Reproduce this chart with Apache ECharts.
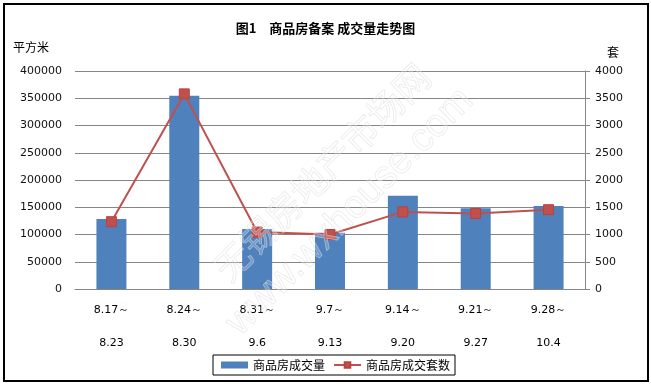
<!DOCTYPE html>
<html>
<head>
<meta charset="utf-8">
<script src="https://cdn.jsdelivr.net/npm/echarts@6/dist/echarts.min.js"></script>
<style>
html,body{margin:0;padding:0;background:#fff;}
#main{width:651px;height:385px;}
</style>
</head>
<body>
<div id="main"></div>
<script>
var startDates = ['8.17～', '8.24～', '8.31～', '9.7～', '9.14～', '9.21～', '9.28～'];
var endDates = ['8.23', '8.30', '9.6', '9.13', '9.20', '9.27', '10.4'];
var areaValues = [128500, 354500, 110000, 103000, 171000, 148000, 152500];
var unitValues = [1235, 3580, 1045, 1000, 1415, 1385, 1455];
var leftTicks = {min: 0, max: 400000, interval: 50000};
var rightTicks = {min: 0, max: 4000, interval: 500};

var categories = startDates.map(function (s, i) { return s + '\n' + endDates[i]; });
var cjk = '"Noto Sans CJK SC", sans-serif';
var num = '"DejaVu Sans", sans-serif';
var plain = function (v) { return String(v); };

var chart = echarts.init(document.getElementById('main'), null, {renderer: 'canvas'});
chart.setOption({
  animation: false,
  backgroundColor: '#fff',
  title: {
    text: '图1　商品房备案 成交量走势图',
    left: 'center',
    top: 17,
    textStyle: {fontFamily: cjk, fontSize: 13, fontWeight: 'bold', color: '#000'}
  },
  grid: {left: 75, right: 66, top: 71, bottom: 96, containLabel: false},
  legend: {
    left: 213,
    top: 355,
    itemWidth: 27,
    itemHeight: 7,
    itemGap: 8,
    padding: [4, 5, 4, 8],
    borderColor: '#000',
    borderWidth: 1,
    textStyle: {fontFamily: cjk, fontSize: 12, color: '#000'},
    data: [{name: '商品房成交量', icon: 'rect'}, {name: '商品房成交套数'}]
  },
  xAxis: {
    type: 'category',
    data: categories,
    axisLine: {show: true, lineStyle: {color: '#868686', width: 1}},
    axisTick: {show: false},
    axisLabel: {
      interval: 0,
      margin: 5,
      fontFamily: num,
      fontSize: 11,
      color: '#000',
      lineHeight: 33
    }
  },
  yAxis: [
    {
      type: 'value',
      min: leftTicks.min,
      max: leftTicks.max,
      interval: leftTicks.interval,
      axisLine: {show: false},
      axisTick: {show: false},
      splitLine: {show: true, lineStyle: {color: '#868686', width: 1}},
      axisLabel: {margin: 13, fontFamily: num, fontSize: 11, color: '#111', formatter: plain}
    },
    {
      type: 'value',
      min: rightTicks.min,
      max: rightTicks.max,
      interval: rightTicks.interval,
      position: 'right',
      axisLine: {show: true, lineStyle: {color: '#868686', width: 1}},
      axisTick: {show: true, length: 5, lineStyle: {color: '#868686'}},
      splitLine: {show: false},
      axisLabel: {margin: 10, fontFamily: num, fontSize: 11, color: '#111', formatter: plain}
    }
  ],
  series: [
    {
      name: '商品房成交量',
      type: 'bar',
      yAxisIndex: 0,
      barWidth: 30,
      itemStyle: {color: '#4F81BD'},
      data: areaValues
    },
    {
      name: '商品房成交套数',
      type: 'line',
      yAxisIndex: 1,
      symbol: 'rect',
      symbolSize: 10,
      lineStyle: {color: '#C0504D', width: 2},
      itemStyle: {color: '#C0504D', borderColor: '#B8433F', borderWidth: 1},
      data: unitValues
    }
  ],
  graphic: [
    {
      type: 'rect',
      silent: true,
      shape: {x: 4, y: 4, width: 644, height: 377},
      style: {fill: 'none', stroke: '#000', lineWidth: 2},
      z: 100
    },
    {
      type: 'text',
      left: 13,
      top: 41,
      style: {text: '平方米', fontFamily: cjk, fontSize: 12, fill: '#000'}
    },
    {
      type: 'text',
      left: 607,
      top: 46,
      style: {text: '套', fontFamily: cjk, fontSize: 12, fill: '#000'}
    },
    {
      type: 'text',
      silent: true,
      x: 322,
      y: 172,
      rotation: Math.PI / 4,
      z: 50,
      style: {
        text: '无锡房地产市场网',
        fontFamily: cjk,
        fontSize: 36,
        align: 'center',
        verticalAlign: 'middle',
        fill: 'rgba(255,255,255,0.2)',
        stroke: 'rgba(215,215,215,0.55)',
        lineWidth: 0.8
      }
    },
    {
      type: 'text',
      silent: true,
      x: 350,
      y: 212,
      rotation: Math.PI / 4,
      z: 50,
      style: {
        text: 'www.wxhouse.com',
        fontFamily: '"Liberation Sans", sans-serif',
        fontSize: 39,
        align: 'center',
        verticalAlign: 'middle',
        fill: 'rgba(255,255,255,0.2)',
        stroke: 'rgba(215,215,215,0.55)',
        lineWidth: 0.8
      }
    }
  ]
});
</script>
</body>
</html>
